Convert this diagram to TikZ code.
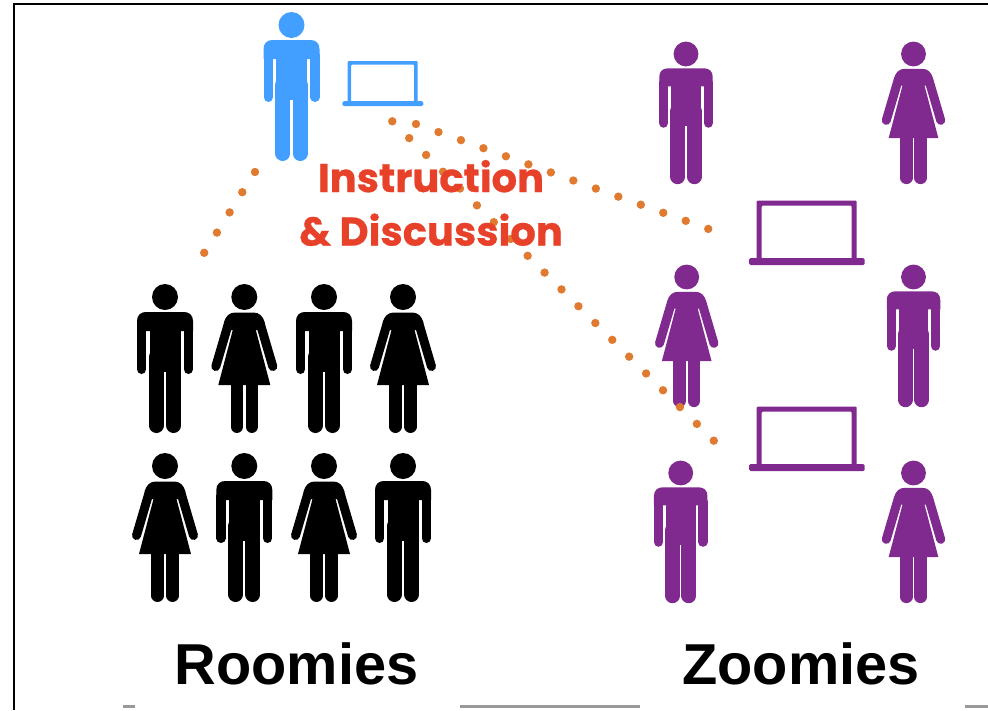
\documentclass[tikz,border=0pt]{standalone}
\usepackage{fontspec}
\setmainfont{Liberation Sans}
\newfontfamily\headfont[BoldFeatures={FakeBold=0.7}]{Poppins}
\definecolor{teachblue}{HTML}{429EFF}
\definecolor{zoompurple}{HTML}{80298F}
\definecolor{dotorange}{HTML}{E07A30}
\definecolor{headred}{HTML}{E8412A}
\definecolor{framegray}{HTML}{999999}
\tikzset{
  manicon/.pic={
    \fill (0,0) circle (13);
    \fill (-28,34) -- (-28,24) .. controls (-28,18) and (-24,15) .. (-19,15) -- (19,15) .. controls (24,15) and (28,18) .. (28,24) -- (28,34) -- cycle;
    \fill (-15.5,30) rectangle (15.5,75);
    \draw[line width=9.4,line cap=round] (-23.3,30)--(-23.3,72.3) (23.3,30)--(23.3,72.3);
    \draw[line width=15,line cap=round] (-8.6,60)--(-8.6,128.5) (8.6,60)--(8.6,128.5);
  },
  womanicon/.pic={
    \fill (0,0) circle (13);
    \fill (-9,15.5) .. controls (-15,15.5) and (-18.5,19) .. (-20.5,25.5) -- (-14,33) -- (-11.5,33) -- (-26,88) -- (26,88) -- (11.5,33) -- (14,33) -- (20.5,25.5) .. controls (18.5,19) and (15,15.5) .. (9,15.5) -- cycle;
    \draw[line width=9,line cap=round] (-16,27)--(-28.5,69.5) (16,27)--(28.5,69.5);
    \draw[line width=12.5,line cap=round] (-7.5,80)--(-7.5,129.7) (7.5,80)--(7.5,129.7);
  },
  laptopicon/.pic={
    \fill[even odd rule,rounded corners=1] (0,0) rectangle (100,60) (5,5) rectangle (95,60);
    \fill[rounded corners=1.5] (-7.5,57.3) rectangle (108,64.5);
  },
  spot/.style={fill=dotorange},
}
\begin{document}
\begin{tikzpicture}[x=1pt,y=-1pt]
\useasboundingbox (0,0) rectangle (988,710);

\draw[line width=2] (988,4)--(14,4)--(14,710);
\draw[line width=2.5,framegray] (123,706.5)--(135,706.5) (460,706.5)--(640,706.5) (965,706.5)--(988,706.5);

\pic[color=teachblue] at (291.5,25) {manicon};
\pic[color=teachblue,scale=0.7] at (347.7,61) {laptopicon};

\foreach \x/\kind in {165/manicon,244.3/womanicon,324/manicon,403/womanicon}
  \pic[color=black] at (\x,297) {\kind};
\foreach \x/\kind in {165/womanicon,244.3/manicon,324/womanicon,403/manicon}
  \pic[color=black] at (\x,466) {\kind};

\foreach \x/\y/\kind in {686/54/manicon,913.5/54/womanicon,686.7/277/womanicon,913.5/277/manicon,680.7/473/manicon,913.5/473/womanicon}
  \pic[color=zoompurple,scale=0.955] at (\x,\y) {\kind};

\pic[color=zoompurple] at (756.7,200.7) {laptopicon};
\pic[color=zoompurple] at (756.7,406.7) {laptopicon};

\foreach \i in {0,...,4}
  \fill[spot] ({255-12.7*\i},{172+20.2*\i}) circle (4.2);
\foreach \i in {0,...,13}
  \fill[spot] ({416+22.48*\i},{124+8.07*\i}) circle (4.2);
\foreach \i in {0,...,19}
  \fill[spot] ({392.3+16.92*\i},{121.3+16.81*\i}) circle (4.2);

\node[text=headred,align=center,font=\headfont\bfseries\fontsize{40}{53.5}\selectfont,inner sep=0] (instruction) at (431,203) {Instruction\\\& Discussion};

\node[font=\bfseries\fontsize{57.7}{60}\selectfont,anchor=base,inner sep=0] (roomies) at (296.5,684) {Roomies};
\node[font=\bfseries\fontsize{57.7}{60}\selectfont,anchor=base,inner sep=0] (zoomies) at (801,684) {Zoomies};
\end{tikzpicture}
\end{document}
